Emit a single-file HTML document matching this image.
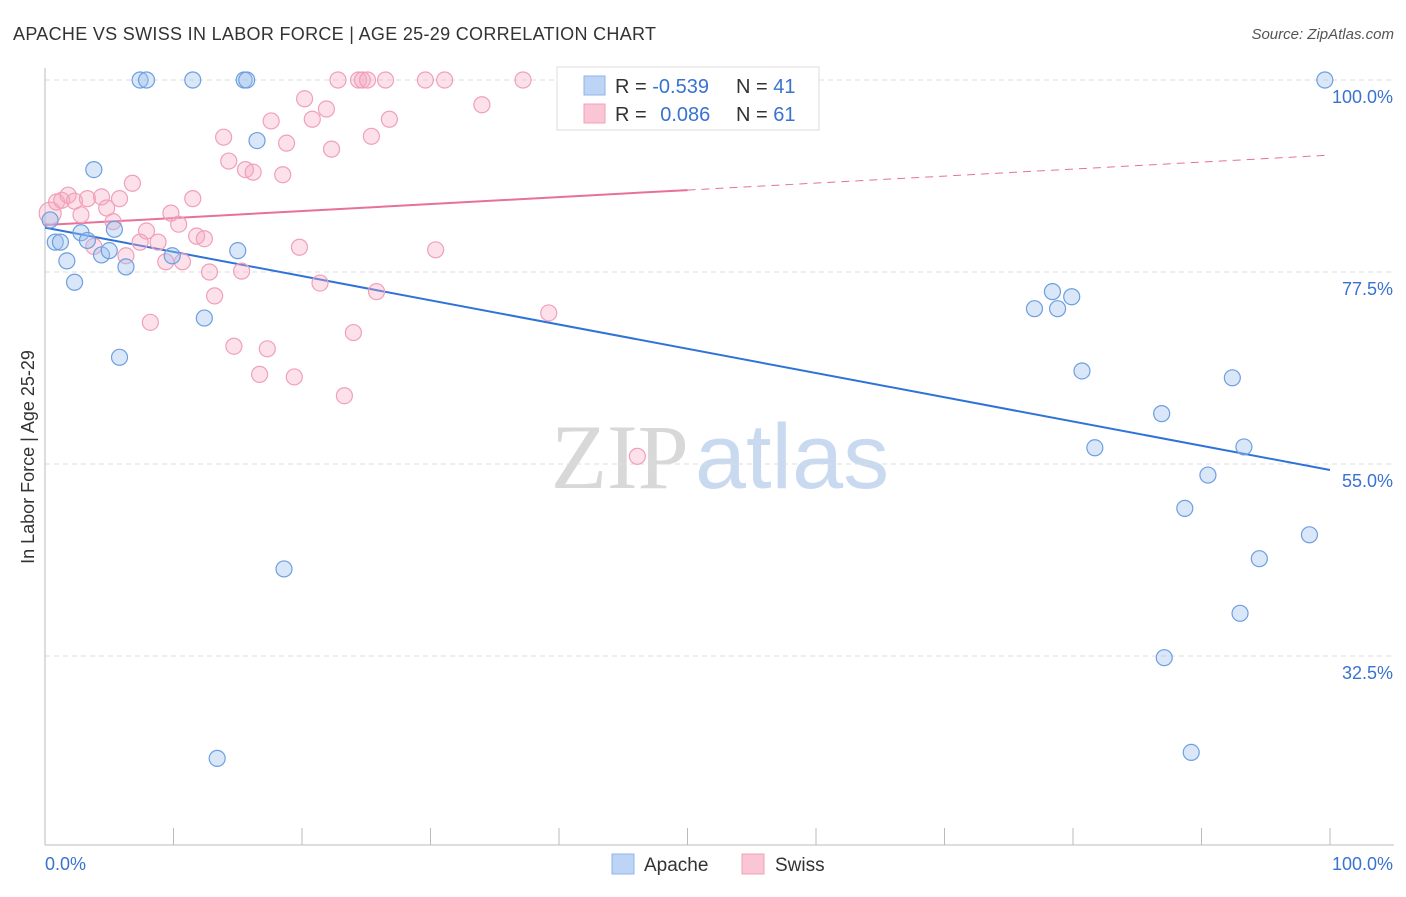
<!DOCTYPE html>
<html><head><meta charset="utf-8"><style>
body{margin:0;background:#fff;font-family:"Liberation Sans",sans-serif}
</style></head><body>
<svg id="chart" width="1406" height="892" xmlns="http://www.w3.org/2000/svg" font-family="Liberation Sans, sans-serif">
<text x="13" y="40" font-size="18" fill="#333" textLength="643" lengthAdjust="spacing">APACHE VS SWISS IN LABOR FORCE | AGE 25-29 CORRELATION CHART</text>
<text x="1394" y="39" font-size="15" fill="#555" font-style="italic" text-anchor="end">Source: ZipAtlas.com</text>
<text x="720" y="488" font-size="92" text-anchor="middle"><tspan fill="#d8d8d8" font-family="Liberation Serif, serif">ZIP</tspan><tspan fill="#c9daf0" dx="6">atlas</tspan></text>
<text transform="translate(34,457) rotate(-90)" font-size="18" fill="#333" text-anchor="middle">In Labor Force | Age 25-29</text>
<g id="grid"></g><g id="axes"></g><g id="lines"></g><g id="pts"></g>
<g>
<rect x="557" y="67" width="262" height="63" fill="#fff" stroke="#ddd"/>
<rect x="584" y="76" width="21" height="19" fill="#bcd4f5" stroke="#8fb5e8"/>
<rect x="584" y="104" width="21" height="19" fill="#fac6d5" stroke="#f0a0b8"/>
<text x="615" y="93" font-size="20" fill="#333">R = <tspan fill="#3a72d0">-0.539</tspan></text>
<text x="736" y="93" font-size="20" fill="#333">N = <tspan fill="#3a72d0">41</tspan></text>
<text x="615" y="121" font-size="20" fill="#333">R = <tspan fill="#3a72d0" dx="8">0.086</tspan></text>
<text x="736" y="121" font-size="20" fill="#333">N = <tspan fill="#3a72d0">61</tspan></text>
</g>
<g>
<rect x="612" y="854" width="22" height="20" fill="#bcd4f5" stroke="#8fb5e8"/>
<text x="644" y="871" font-size="19" fill="#333">Apache</text>
<rect x="742" y="854" width="22" height="20" fill="#fac6d5" stroke="#f0a0b8"/>
<text x="775" y="871" font-size="19" fill="#333">Swiss</text>
</g>
</svg>
<script>
const apacheX=[7.4,7.9,11.5,15.5,15.7,99.6,3.8,16.5,0.8,1.2,1.7,2.3,2.8,3.3,4.4,5.0,5.4,6.3,9.9,15.0,12.4,5.8,18.6,13.4,77.0,78.4,78.8,79.9,80.7,81.7,86.9,92.4,93.3,90.5,88.7,94.5,98.4,93.0,87.1,89.2,0.4];
const apacheY=[100,100,100,100,100,100,89.5,92.9,81.0,81.0,78.8,76.3,82.1,81.2,79.5,80.0,82.5,78.1,79.4,80.0,72.1,67.5,42.7,20.5,73.2,75.2,73.2,74.6,65.9,56.9,60.9,65.1,57.0,53.7,49.8,43.9,46.7,37.5,32.3,21.2,83.6];
const swissX=[0.4,0.9,1.3,1.8,2.3,2.8,3.3,3.8,4.4,4.8,5.3,5.8,6.3,6.8,7.4,7.9,8.2,8.8,9.4,9.8,10.4,10.7,11.5,11.8,12.4,12.8,13.2,13.9,14.3,14.7,15.3,15.6,16.2,16.7,17.3,17.6,18.5,18.8,19.4,19.8,20.2,20.8,21.4,21.9,22.3,22.8,23.3,24.0,24.4,24.7,25.1,25.4,25.8,26.5,26.8,29.6,30.4,31.1,34.0,37.2,39.2,46.1];
const swissY=[84.4,85.7,85.9,86.5,85.8,84.2,86.1,80.5,86.3,85.0,83.4,86.1,79.4,87.9,81.0,82.3,71.6,81.0,78.7,84.4,83.1,78.7,86.1,81.7,81.4,77.5,74.7,93.3,90.5,68.8,77.6,89.5,89.2,65.5,68.5,95.2,88.9,92.6,65.2,80.4,97.8,95.4,76.2,96.6,91.9,100,63.0,70.4,100,100,100,93.4,75.2,100,95.4,100,80.1,100,97.1,100,72.7,55.9];
const apacheTrend=[82.7,54.3];
const swissTrend=[83.0,91.2];
const yTicks=[100,77.5,55,32.5];
const yTickLabels=["100.0%","77.5%","55.0%","32.5%"];
const NS="http://www.w3.org/2000/svg";
const X=v=>45+v*12.85, Y=v=>80+(100-v)*8.533;
function mk(tag,attrs,parent){const e=document.createElementNS(NS,tag);for(const k in attrs)e.setAttribute(k,attrs[k]);document.getElementById(parent).appendChild(e);return e;}
yTicks.forEach((t,i)=>{
 const l=mk('line',{x1:45,x2:1394,y1:Y(t),y2:Y(t),stroke:'#ddd','stroke-dasharray':'5,4'},'grid');
 
 
 const tx=mk('text',{x:1393,y:Y(t)+23,'font-size':18,fill:'#3a72d0','text-anchor':'end'},'grid');
 tx.textContent=yTickLabels[i];
 
 
});
const ax=mk('line',{x1:45,x2:45,y1:68,y2:845,stroke:'#bbb'},'axes');


const bx=mk('line',{x1:45,x2:1394,y1:845,y2:845,stroke:'#bbb'},'axes');


for(let i=1;i<=10;i++){const t=mk('line',{x1:X(i*10),x2:X(i*10),y1:828,y2:845,stroke:'#bbb'},'axes');
 
 }
const x0=mk('text',{x:45,y:870,'font-size':18,fill:'#3a72d0'},'axes');x0.textContent='0.0%';


const x1=mk('text',{x:1393,y:870,'font-size':18,fill:'#3a72d0','text-anchor':'end'},'axes');x1.textContent='100.0%';


const swissMid=swissTrend[0]+(swissTrend[1]-swissTrend[0])*0.5;
let l1=mk('line',{x1:X(0),y1:Y(apacheTrend[0]),x2:X(100),y2:Y(apacheTrend[1]),stroke:'#2f73d8','stroke-width':2},'lines');


let l2=mk('line',{x1:X(0),y1:Y(swissTrend[0]),x2:X(50),y2:Y(swissMid),stroke:'#e8709a','stroke-width':2},'lines');


let l3=mk('line',{x1:X(50),y1:Y(swissMid),x2:X(100),y2:Y(swissTrend[1]),stroke:'#e8709a','stroke-width':1,'stroke-dasharray':'8,6'},'lines');


swissX.forEach((v,i)=>{const c=mk('circle',{cx:X(v),cy:Y(swissY[i]),r:i==0?11:8,fill:'rgba(246,170,195,0.35)',stroke:'#f0a0b8','stroke-width':1.2},'pts');
 
 });
apacheX.forEach((v,i)=>{const c=mk('circle',{cx:X(v),cy:Y(apacheY[i]),r:8,fill:'rgba(160,195,240,0.4)',stroke:'#6d9fe0','stroke-width':1.2},'pts');
 
 });
</script>
</body></html>
